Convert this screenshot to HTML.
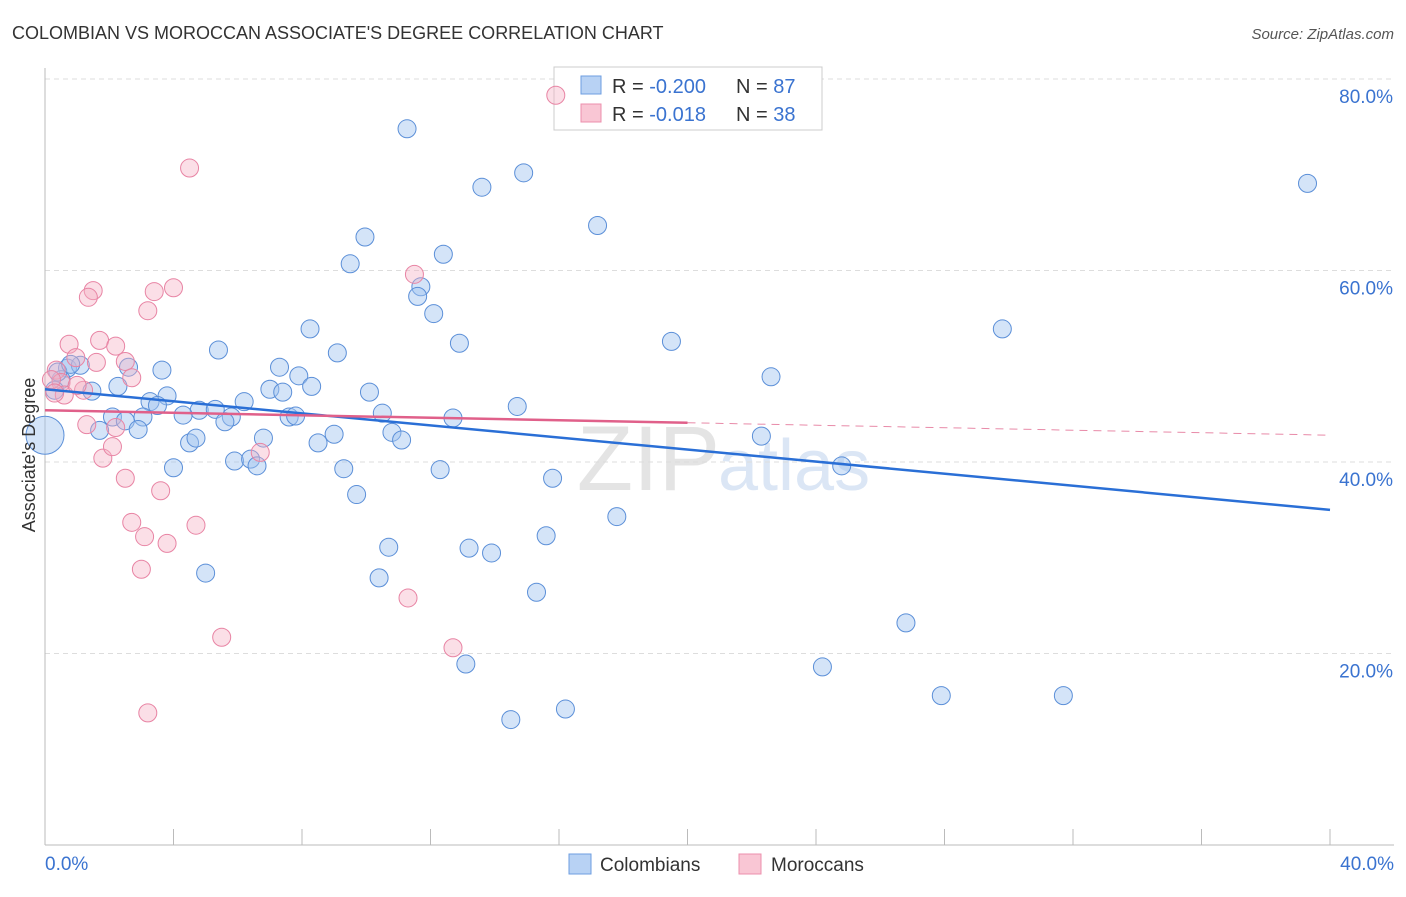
<!DOCTYPE html>
<html><head><meta charset="utf-8"><style>
body{margin:0;background:#fff;font-family:"Liberation Sans",sans-serif}
svg text{font-family:"Liberation Sans",sans-serif}
</style></head><body>
<svg id="chart" width="1406" height="892" xmlns="http://www.w3.org/2000/svg">
<text x="12" y="39" font-size="18" fill="#333">COLOMBIAN VS MOROCCAN ASSOCIATE'S DEGREE CORRELATION CHART</text>
<text x="1394" y="39" font-size="15" fill="#555" text-anchor="end" font-style="italic">Source: ZipAtlas.com</text>
<text x="720" y="490" font-size="92" fill="#e4e4e4" text-anchor="end" font-family="Liberation Serif">ZIP</text>
<text x="718" y="490" font-size="72" fill="#dbe6f5">atlas</text>
<g id="grid"></g>
<g id="axes"></g>
<g>
<rect x="554" y="67" width="268" height="63" fill="#fff" stroke="#ccc"/>
<rect x="581" y="76" width="20" height="18" fill="#b8d2f4" stroke="#6e9ee0"/>
<rect x="581" y="104" width="20" height="18" fill="#f9c6d4" stroke="#ec8fac"/>
<text x="612" y="93" font-size="20" fill="#333">R = <tspan fill="#3a73d0">-0.200</tspan></text>
<text x="736" y="93" font-size="20" fill="#333">N = <tspan fill="#3a73d0">87</tspan></text>
<text x="612" y="121" font-size="20" fill="#333">R = <tspan fill="#3a73d0"> -0.018</tspan></text>
<text x="736" y="121" font-size="20" fill="#333">N = <tspan fill="#3a73d0">38</tspan></text>
</g>
<g id="pts"></g>
<g id="trend"></g>
<text x="35" y="455" font-size="18" fill="#333" text-anchor="middle" transform="rotate(-90 35 455)">Associate's Degree</text>
<g>
<rect x="569" y="854" width="22" height="20" fill="#b8d2f4" stroke="#6e9ee0"/>
<text x="600" y="871" font-size="19" fill="#333">Colombians</text>
<rect x="739" y="854" width="22" height="20" fill="#f9c6d4" stroke="#ec8fac"/>
<text x="771" y="871" font-size="19" fill="#333">Moroccans</text>
</g>
</svg>
<script>
const blueX=[11.27,13.6,14.9,17.2,39.3,9.96,12.4,9.5,11.7,11.6,12.1,8.25,29.8,19.5,12.9,5.4,9.1,7.3,3.64,2.6,0.7,1.1,22.6,7.9,2.27,1.46,7.0,7.4,8.3,10.1,3.27,3.8,3.5,4.8,5.3,6.2,14.7,2.1,2.5,3.05,5.8,7.6,7.8,10.5,2.9,4.3,5.6,12.7,1.7,4.5,4.7,6.8,9.0,8.5,10.8,11.1,22.3,4.0,5.9,6.4,6.6,9.3,12.3,24.8,15.8,9.7,17.8,15.6,10.7,13.2,13.9,5.0,10.4,15.3,26.8,13.1,24.2,27.9,31.7,16.2,14.5,0.5,0.3,0.4,0.8,0.0];
const blueY=[74.8,68.7,70.2,64.7,69.1,63.5,61.7,60.7,58.3,57.3,55.5,53.9,53.9,52.6,52.4,51.7,51.4,49.9,49.6,49.9,49.8,50.1,48.9,49.0,47.9,47.4,47.6,47.3,47.9,47.3,46.3,46.9,45.9,45.4,45.5,46.3,45.8,44.7,44.3,44.7,44.7,44.7,44.8,45.1,43.4,44.9,44.2,44.6,43.3,42.0,42.5,42.5,42.9,42.0,43.1,42.3,42.7,39.4,40.1,40.3,39.6,39.3,39.2,39.6,38.3,36.6,34.3,32.3,31.1,31.0,30.5,28.4,27.9,26.4,23.2,18.9,18.6,15.6,15.6,14.2,13.1,48.6,47.5,49.4,50.2,42.8];
const pinkX=[15.9,4.5,11.5,1.5,1.35,3.4,4.0,3.2,0.75,1.7,2.2,0.96,1.6,2.5,0.35,0.5,2.7,0.2,1.2,0.6,1.3,2.2,1.8,2.1,2.5,3.6,2.7,4.7,3.1,3.8,3.0,6.7,11.3,5.5,12.7,3.2,0.3,1.0];
const pinkY=[78.3,70.7,59.6,57.9,57.2,57.8,58.2,55.8,52.3,52.7,52.1,50.9,50.4,50.5,49.6,48.3,48.8,48.6,47.5,47.0,43.9,43.6,40.4,41.6,38.3,37.0,33.7,33.4,32.2,31.5,28.8,41.0,25.8,21.7,20.6,13.8,47.2,48.0];
const yTicks=[20,40,60,80];
const xTicks=[0,4,8,12,16,20,24,28,32,36,40];
const blueTrend=[47.6,35.0];
const pinkTrend=[45.4,42.8];
const pinkSolidEnd=20;
const NS="http://www.w3.org/2000/svg";
const X=v=>45+v/40*1285, Y=v=>845-v/80*766;
function mk(t,a,p){const e=document.createElementNS(NS,t);for(const k in a)e.setAttribute(k,a[k]);p.appendChild(e);return e;}
const grid=document.getElementById('grid'),axes=document.getElementById('axes'),pts=document.getElementById('pts'),tr=document.getElementById('trend');
yTicks.forEach(v=>{
 const l=mk('line',{x1:45,x2:1394,y1:Y(v),y2:Y(v),stroke:'#ddd','stroke-dasharray':'5,4'},grid);
 
 
 const t=mk('text',{x:1393,y:Y(v)+24,'font-size':19,fill:'#3a73d0','text-anchor':'end'},grid);t.textContent=v.toFixed(1)+'%';
 
 
});
mk('line',{x1:45,x2:45,y1:68,y2:845,stroke:'#bbb'},axes);
mk('line',{x1:45,x2:1394,y1:845,y2:845,stroke:'#bbb'},axes);
xTicks.forEach(v=>{const l=mk('line',{x1:X(v),x2:X(v),y1:829,y2:845,stroke:'#bbb'},axes);
 
 });
[[0,'start',45],[40,'end',1394]].forEach(([v,a,x])=>{const t=mk('text',{x:x,y:870,'font-size':19,fill:'#3a73d0','text-anchor':a},axes);t.textContent=v.toFixed(1)+'%';
 
 });
blueX.forEach((v,i)=>{const r=(v===0)?19:9;const c=mk('circle',{cx:X(v),cy:Y(blueY[i]),r:r,fill:'rgba(160,195,240,0.45)',stroke:'#5b8fd8','stroke-width':1},pts);
 
 });
pinkX.forEach((v,i)=>{const c=mk('circle',{cx:X(v),cy:Y(pinkY[i]),r:9,fill:'rgba(245,175,195,0.4)',stroke:'#e884a4','stroke-width':1},pts);
 
 });
const bl=mk('line',{x1:X(0),y1:Y(blueTrend[0]),x2:X(40),y2:Y(blueTrend[1]),stroke:'#2a6fd6','stroke-width':2.5},tr);


const pm=pinkTrend[0]+(pinkTrend[1]-pinkTrend[0])*pinkSolidEnd/40;
const pl=mk('line',{x1:X(0),y1:Y(pinkTrend[0]),x2:X(pinkSolidEnd),y2:Y(pm),stroke:'#e0608a','stroke-width':2.5},tr);


const pd=mk('line',{x1:X(pinkSolidEnd),y1:Y(pm),x2:X(40),y2:Y(pinkTrend[1]),stroke:'#e88aa8','stroke-width':1,'stroke-dasharray':'8,6'},tr);


</script>
</body></html>
